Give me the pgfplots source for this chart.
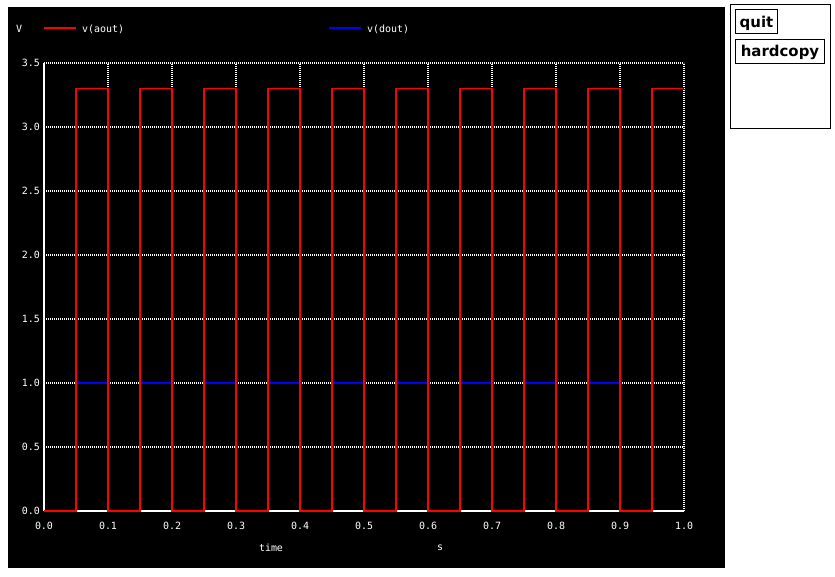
\documentclass[border=0pt]{standalone}
\usepackage{fontspec}
\setmainfont{DejaVu Sans Mono}
\newfontfamily\btnfont{DejaVu Sans}
\usepackage{pgfplots}
\pgfplotsset{compat=1.18}

\begin{document}
\begin{tikzpicture}[x=1bp,y=1bp]
  % page and panels (1bp = 1px, origin at the axis corner px (44,511))
  \useasboundingbox (-44,-66) rectangle (791,511);
  \fill[white] (-44,-66) rectangle (791,511);
  \fill[black] (-36,-57) rectangle (681,504);
  \draw[black, line width=1bp] (686.5,382.5) rectangle (786.5,506.5);
  \draw[black, line width=1bp] (691.5,477.5) rectangle (733.5,501.5);
  \draw[black, line width=1bp] (691.5,447.5) rectangle (780.5,471.5);
  \node[anchor=center, inner sep=0pt, font=\btnfont\bfseries\fontsize{15}{15}\selectfont] at (712.5,488) {quit};
  \node[anchor=center, inner sep=0pt, font=\btnfont\bfseries\fontsize{15}{15}\selectfont] at (736,458.5) {hardcopy};

  \begin{axis}[
      at={(0,0)}, anchor=south west,
      scale only axis,
      width=640bp, height=448bp,
      xmin=0, xmax=1, ymin=0, ymax=3.5,
      xtick={0,0.1,...,1.0},
      ytick={0,0.5,...,3.5},
      axis lines=left,
      axis line style={-, white, line width=1.4bp},
      major tick length=0pt,
      grid=major,
      major grid style={white, line width=1.2bp, dash pattern=on 1bp off 1bp},
      clip=false,
      /pgf/number format/assume math mode=true,
      /pgf/number format/.cd, fixed, fixed zerofill, precision=1,
      /pgfplots/.cd,
      tick label style={white, font=\fontsize{10}{10}\selectfont, inner sep=0pt},
      xticklabel style={anchor=center, yshift=-15bp},
      yticklabel style={anchor=east, xshift=-4bp},
    ]
    \addplot[blue, line width=1.6bp] coordinates {
      (0,0) (0.05,0) (0.05,1) (0.1,1) (0.1,0) (0.15,0) (0.15,1) (0.2,1)
      (0.2,0) (0.25,0) (0.25,1) (0.3,1) (0.3,0) (0.35,0) (0.35,1) (0.4,1)
      (0.4,0) (0.45,0) (0.45,1) (0.5,1) (0.5,0) (0.55,0) (0.55,1) (0.6,1)
      (0.6,0) (0.65,0) (0.65,1) (0.7,1) (0.7,0) (0.75,0) (0.75,1) (0.8,1)
      (0.8,0) (0.85,0) (0.85,1) (0.9,1) (0.9,0) (0.95,0)
    };
    \addplot[red, line width=1.6bp] coordinates {
      (0,0) (0.05,0) (0.05,3.3) (0.1,3.3) (0.1,0) (0.15,0) (0.15,3.3) (0.2,3.3)
      (0.2,0) (0.25,0) (0.25,3.3) (0.3,3.3) (0.3,0) (0.35,0) (0.35,3.3) (0.4,3.3)
      (0.4,0) (0.45,0) (0.45,3.3) (0.5,3.3) (0.5,0) (0.55,0) (0.55,3.3) (0.6,3.3)
      (0.6,0) (0.65,0) (0.65,3.3) (0.7,3.3) (0.7,0) (0.75,0) (0.75,3.3) (0.8,3.3)
      (0.8,0) (0.85,0) (0.85,3.3) (0.9,3.3) (0.9,0) (0.95,0) (0.95,3.3) (1.0,3.3)
    };
  \end{axis}

  % header and axis names
  \begin{scope}[every node/.style={white, inner sep=0pt, font=\fontsize{10}{10}\selectfont}]
    \node[anchor=west] at (-28,482) {V};
    \draw[red, line width=1.6bp] (0,483) -- (32,483);
    \node[anchor=west] at (38,482) {v(aout)};
    \draw[blue, line width=1.6bp] (285,483) -- (317,483);
    \node[anchor=west] at (323,482) {v(dout)};
    \node[anchor=center] at (227,-37) {time};
    \node[anchor=center] at (396,-37) {s};
  \end{scope}
\end{tikzpicture}
\end{document}
